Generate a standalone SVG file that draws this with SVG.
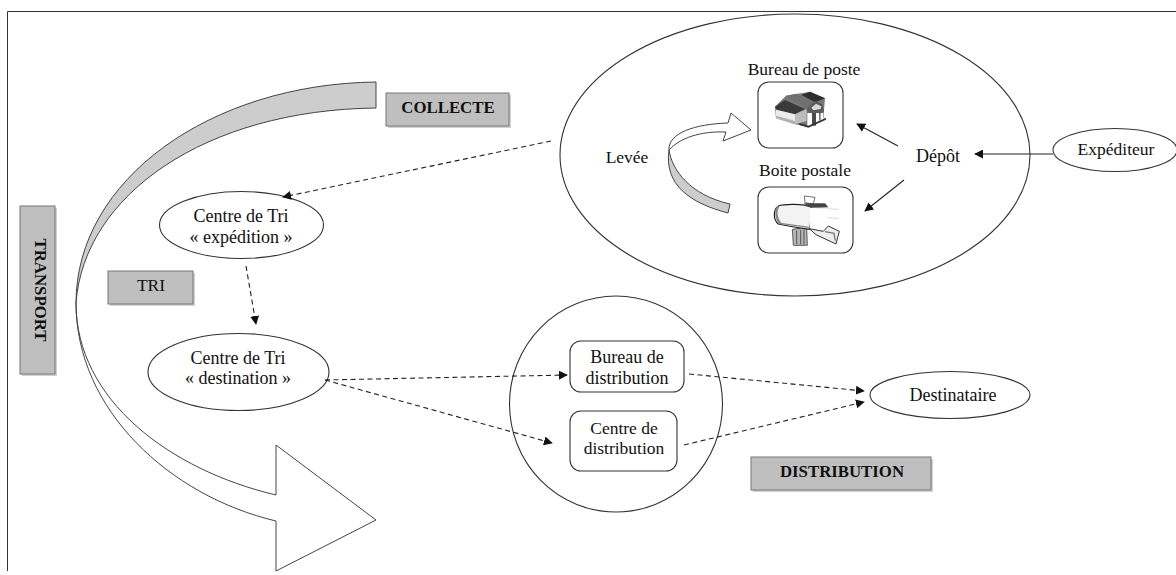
<svg xmlns="http://www.w3.org/2000/svg" width="1176" height="575" viewBox="0 0 1176 575">
<style>
text{font-family:"Liberation Serif","Times New Roman",serif;font-size:17.500px;fill:#111;text-anchor:middle}
.b{font-weight:bold;font-size:16.800px}
.w{font-size:18px}
.n{fill:#fff;stroke:#333;stroke-width:1.1}
.g{fill:#bfbfbf;stroke:#777;stroke-width:1}
.s{fill:#999;opacity:.45}
.a{fill:#fff;stroke:#444;stroke-width:1}
.band{fill:#cdcdcd;stroke:#444;stroke-width:1}
.c{fill:none;stroke:#222;stroke-width:1.1}
.d{stroke-dasharray:5 3.5}
</style>
<defs>
<marker id="h" viewBox="0 0 10 10" refX="9" refY="5" markerWidth="9" markerHeight="9" markerUnits="userSpaceOnUse" orient="auto"><path d="M0,0L10,5L0,10z" fill="#111"/></marker>
</defs>
<rect width="1176" height="575" fill="#fff"/>
<g id="frame"><path d="M7.500,571V11.500H1176" fill="none" stroke="#333" stroke-width="1"/></g>

<g id="arrow-transport">
<path class="a" d="M76,303C76,410 170,496 276,521V571L376,520L276,445V495C170,470 76,400 76,303z"/>
<path class="band" d="M376,82C210,84 76,180 76,303C84,195 205,110 376,108z"/>
</g>

<g id="ellipse-collecte"><ellipse class="n" cx="795" cy="155" rx="235" ry="141"/></g>
<g id="ellipse-distribution"><ellipse class="n" cx="616" cy="404" rx="106.500" ry="108"/></g>

<g id="label-transport"><rect class="s" x="22" y="208" width="35" height="168"/><rect class="g" x="20" y="206" width="35" height="168"/><text class="b" transform="translate(35,290) rotate(90)">TRANSPORT</text></g>
<g id="label-collecte"><rect class="s" x="388" y="95" width="123" height="33"/><rect class="g" x="386" y="93" width="123" height="33"/><text class="b" x="448" y="113">COLLECTE</text></g>
<g id="label-tri"><rect class="s" x="110" y="273" width="85" height="33"/><rect class="g" x="108" y="271" width="85" height="33"/><text x="151" y="291">TRI</text></g>
<g id="label-distribution"><rect class="s" x="753" y="459" width="180" height="33"/><rect class="g" x="751" y="457" width="180" height="33"/><text class="b" x="842" y="477">DISTRIBUTION</text></g>

<g id="node-centre-expedition"><ellipse class="n" cx="241.500" cy="225" rx="82" ry="33.500"/><text class="w" x="241" y="222">Centre de Tri</text><text class="w" x="241" y="243">« expédition »</text></g>
<g id="node-centre-destination"><ellipse class="n" cx="238.500" cy="372" rx="90.500" ry="38.500"/><text class="w" x="238" y="364">Centre de Tri</text><text class="w" x="238" y="384">« destination »</text></g>
<g id="node-bureau-distribution"><rect class="n" x="570" y="341" width="114" height="51" rx="11"/><text class="w" x="627" y="363">Bureau de</text><text class="w" x="627" y="384">distribution</text></g>
<g id="node-centre-distribution"><rect class="n" x="570" y="411" width="107" height="60" rx="11"/><text x="624" y="434">Centre de</text><text x="624" y="454">distribution</text></g>
<g id="node-destinataire"><ellipse class="n" cx="950" cy="395" rx="80" ry="23.500"/><text class="w" x="953" y="401">Destinataire</text></g>
<g id="node-expediteur"><ellipse class="n" cx="1115" cy="150" rx="62" ry="21.500"/><text x="1116" y="155">Expéditeur</text></g>
<g id="node-levee"><text x="627" y="163">Levée</text></g>
<g id="node-depot"><text class="w" x="938" y="162">Dépôt</text></g>

<g id="node-bureau-poste">
<text x="804" y="75">Bureau de poste</text>
<rect class="n" x="758" y="82" width="85" height="66" rx="11"/>
<g transform="translate(760,85) scale(.3333)">
<path d="M45,65L78,32L150,20L195,40L190,100L145,125L105,118L48,100z" fill="#777"/>
<path d="M125,30L150,20L195,40L165,52z" fill="#2e2e2e"/>
<path d="M78,32L110,26L170,55L140,72z" fill="#707070"/>
<path d="M45,65L75,45L135,72L105,88L50,74z" fill="#3a3a3a"/>
<path d="M48,74L105,88V118L48,100z" fill="#ececec"/>
<path d="M48,92L105,108V118L48,100z" fill="#b0b0b0"/>
<path d="M105,88L140,72V108L105,118z" fill="#bdbdbd"/>
<path d="M140,72L165,48L187,58L192,78L182,88L150,86z" fill="#5a5a5a"/>
<path d="M154,68L168,56L184,64L182,72L160,76z" fill="#d8d8d8"/>
<path d="M142,84H156V125H142zM168,84H177V118H168zM182,84H189V110H182z" fill="#fff"/>
<path d="M156,84H168V122H156z" fill="#4a4a4a"/>
<path d="M118,120L145,128L198,104V98L145,122L118,114z" fill="#333"/>
</g>
</g>

<g id="node-boite-postale">
<text x="805" y="176">Boite postale</text>
<rect class="n" x="758" y="187" width="95" height="66" rx="11"/>
<g transform="translate(760,190) scale(.3333)">
<path d="M133,18L165,22L160,42L135,38z" fill="#fff" stroke="#555" stroke-width="2.500"/>
<path d="M97,118L140,112L142,166L100,166z" fill="#b5b5b5" stroke="#444" stroke-width="2.500"/>
<path d="M110,122V163M122,120V163M132,120V163" stroke="#555" stroke-width="3"/>
<path d="M55,48C70,42 130,40 155,52L150,118C120,115 70,105 55,102C40,90 38,60 55,48z" fill="#f3f3f3" stroke="#222" stroke-width="3.500"/>
<path d="M55,50C46,60 48,90 62,100" fill="none" stroke="#888" stroke-width="7"/>
<path d="M60,100L148,112" stroke="#888" stroke-width="4"/>
<path d="M130,40L195,40L205,52L155,54z" fill="#444"/>
<path d="M155,54L235,58M160,80L235,85" stroke="#ccc" stroke-width="2.500"/>
<path d="M150,54L205,56L205,108L190,122L150,116z" fill="#fff"/>
<path d="M148,116L190,124L205,108L238,124L228,162L168,134z" fill="#eee" stroke="#333" stroke-width="3"/>
<path d="M195,125L222,130L226,152" fill="none" stroke="#777" stroke-width="4"/>
</g>
</g>

<g id="arrow-levee">
<path class="a" d="M669,150C668,133 695,124 728,123L731,113L751,130L723,141L726,132C700,131 680,138 669,150z"/>
<path class="band" d="M669,150C672,170 690,195 730,204L728,213C690,203 664,185 669,150z"/>
</g>

<g id="connectors">
<path class="c" d="M1053,154H975" marker-end="url(#h)"/>
<path class="c" d="M898,146L857,124" marker-end="url(#h)"/>
<path class="c" d="M904,180L865,211" marker-end="url(#h)"/>
<path class="c d" d="M551,141L283,197" marker-end="url(#h)"/>
<path class="c d" d="M246,266L256,324" marker-end="url(#h)"/>
<path class="c d" d="M325,380L567,375" marker-end="url(#h)"/>
<path class="c d" d="M325,380L552,443" marker-end="url(#h)"/>
<path class="c d" d="M689,374L864,391" marker-end="url(#h)"/>
<path class="c d" d="M684,445L864,402" marker-end="url(#h)"/>
</g>
</svg>
